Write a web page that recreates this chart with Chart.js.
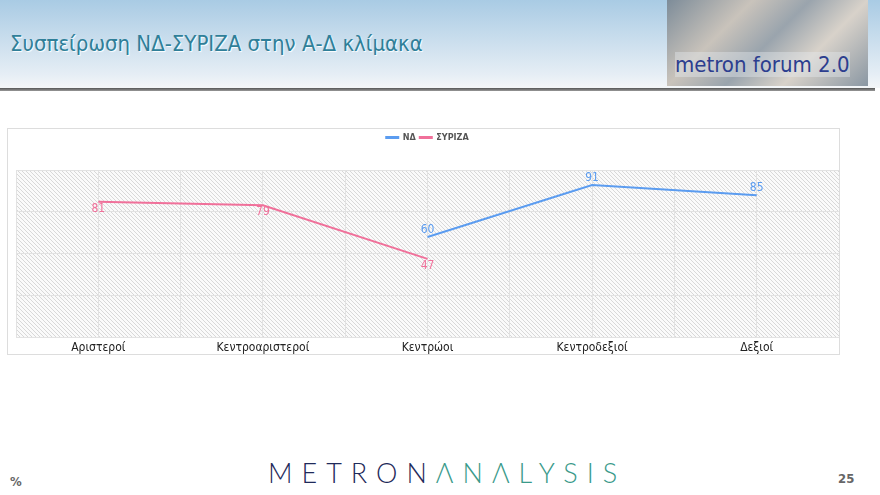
<!DOCTYPE html>
<html><head><meta charset="utf-8">
<script src="https://cdn.jsdelivr.net/npm/chart.js@4/dist/chart.umd.min.js"></script>
<style>
body{margin:0;width:880px;height:495px;background:#fff;position:relative;overflow:hidden;font-family:"DejaVu Sans Condensed","DejaVu Sans",sans-serif}
#hdr{position:absolute;left:0;top:0;width:880px;height:88px;background:linear-gradient(#a9cbe4,#e6eef5 85%,#f4f6f8)}
#line{position:absolute;left:0;top:88px;width:875px;height:3px;background:linear-gradient(#555,#999)}
#title{position:absolute;left:10px;top:31px;font-size:22px;color:#2f7f99;text-shadow:1px 1px 1px #fff;font-family:"DejaVu Sans Condensed",sans-serif}
#logo{position:absolute;left:667px;top:0;width:201px;height:86px;background:linear-gradient(135deg,#7d8c99,#c9c3bb 30%,#9aa4ad 50%,#d8d2ca 70%,#8a97a3);}
#logo span{position:absolute;left:8px;top:52px;font-size:22px;color:#2c3e8f;font-family:"DejaVu Sans Condensed",sans-serif;background:rgba(230,235,240,.4)}
#box{position:absolute;left:7px;top:128px;width:831px;height:225px;border:1px solid #ddd}
#c{position:absolute;left:0;top:0}
#foot{position:absolute;left:268px;top:456px;font-size:27px;letter-spacing:9px;font-family:"Lato",sans-serif;font-weight:300}
#pct{position:absolute;left:10px;top:474px;font-size:13px;color:#666;font-weight:bold}
#pg{position:absolute;left:838px;top:471px;font-size:13px;color:#666;font-weight:bold}
</style></head><body>
<div id="hdr"></div><div id="line"></div>
<div id="title">Συσπείρωση ΝΔ-ΣΥΡΙΖΑ στην Α-Δ κλίμακα</div>
<div id="logo"><span>metron forum 2.0</span></div>
<div id="box"><canvas id="c" width="831" height="229"></canvas></div>
<div id="foot"><span style="color:#1f2a5a">METRON</span><span style="color:#3a9a8a">ΛNΛLYSIS</span></div>
<div id="pct">%</div><div id="pg">25</div>
<script>
const categories=["Αριστεροί","Κεντροαριστεροί","Κεντρώοι","Κεντροδεξιοί","Δεξιοί"];
const nd=[null,null,60,91,85];
const syriza=[81,79,47,null,null];
const hatch={id:'hatch',beforeDraw(ch){
 const a=ch.chartArea,ctx=ch.ctx;const p=document.createElement('canvas');p.width=4;p.height=4;const q=p.getContext('2d');
 q.fillStyle='#fafafa';q.fillRect(0,0,4,4);q.strokeStyle='#cfcfcf';q.lineWidth=0.8;q.beginPath();q.moveTo(0,0);q.lineTo(4,4);q.stroke();
 ctx.save();ctx.fillStyle=ctx.createPattern(p,'repeat');ctx.fillRect(a.left,a.top,a.right-a.left,a.bottom-a.top);ctx.restore();}};
const legendGap={id:'lg',beforeInit(ch){const f=ch.legend.fit;ch.legend.fit=function(){f.call(this);this.height+=18;};}};
const labels={id:'lbl',afterDatasetsDraw(ch){const ctx=ch.ctx;ctx.save();ctx.font='12px "DejaVu Sans Condensed"';ctx.textAlign='center';
 ch.data.datasets.forEach((d,i)=>{ch.getDatasetMeta(i).data.forEach((pt,j)=>{if(d.data[j]==null)return;ctx.fillStyle=d.borderColor;
 ctx.textBaseline=i==0?'bottom':'top';ctx.fillText(d.data[j],pt.x,i==0?pt.y-1:pt.y+1);});});ctx.restore();}};
new Chart(document.getElementById('c'),{type:'line',
 data:{labels:categories,datasets:[
  {label:'ΝΔ',data:nd,borderColor:'#5b9cf0',backgroundColor:'#5b9cf0',borderWidth:2,pointRadius:0,tension:0},
  {label:'ΣΥΡΙΖΑ',data:syriza,borderColor:'#f0709a',backgroundColor:'#f0709a',borderWidth:2,pointRadius:0,tension:0}]},
 options:{responsive:false,animation:false,layout:{padding:{left:8,right:0,top:0,bottom:0}},
  plugins:{legend:{labels:{boxWidth:12,boxHeight:1,font:{size:9,family:'DejaVu Sans Condensed',weight:'bold'},color:'#555',padding:4},
   },tooltip:{enabled:false}},
  scales:{x:{offset:true,grid:{offset:false,color:'#e2e2e2',drawTicks:false},border:{display:false},ticks:{color:'#222',font:{size:12,family:'DejaVu Sans Condensed'},padding:3}},
   x2:{type:'category',labels:categories,offset:true,grid:{offset:true,color:'#e2e2e2',drawTicks:false},ticks:{display:false},border:{display:false},position:'top'},
   y:{min:0,max:100,ticks:{stepSize:25,display:false},grid:{color:'#e2e2e2',drawTicks:false},border:{display:false}}}},
 plugins:[hatch,labels,legendGap]});
</script></body></html>
